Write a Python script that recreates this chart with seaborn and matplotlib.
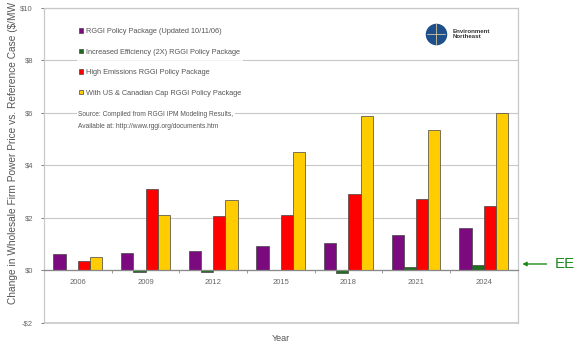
import matplotlib
matplotlib.use("Agg")
import matplotlib.pyplot as plt
import seaborn as sns
import pandas as pd
import numpy as np
from matplotlib.ticker import FixedLocator

years = ["2006", "2009", "2012", "2015", "2018", "2021", "2024"]
series_names = [
    "RGGI Policy Package (Updated 10/11/06)",
    "Increased Efficiency (2X) RGGI Policy Package",
    "High Emissions RGGI Policy Package",
    "With US & Canadian Cap RGGI Policy Package",
]
rggi = [0.61, 0.65, 0.76, 0.95, 1.03, 1.37, 1.60]
eff2x = [0.00, -0.05, -0.05, 0.03, -0.10, 0.15, 0.20]
high_em = [0.38, 3.09, 2.06, 2.13, 2.93, 2.74, 2.44]
uscan = [0.50, 2.10, 2.67, 4.53, 5.87, 5.37, 5.98]
colors = ["#7a0a7e", "#1f6e1f", "#ff0000", "#ffcc00"]
yticks = [-2, 0, 2, 4, 6, 8, 10]
ytick_labels = ["-$2", "$0", "$2", "$4", "$6", "$8", "$10"]

rows = []
for name, vals in zip(series_names, [rggi, eff2x, high_em, uscan]):
    for y, v in zip(years, vals):
        rows.append({"Year": y, "Series": name, "Value": v})
df = pd.DataFrame(rows)

sns.set_theme(style="white")
plt.rcParams['font.family'] = ['Liberation Sans', 'DejaVu Sans']

fig = plt.figure(figsize=(5.74, 3.46), dpi=100)
ax = fig.add_axes([0.0767, 0.0665, 0.825, 0.9105])

sns.barplot(data=df, x="Year", y="Value", hue="Series", hue_order=series_names,
            palette=colors, width=0.72, edgecolor="#444444", linewidth=0.5,
            ax=ax, legend=True, errorbar=None, saturation=1)

ax.set_ylim(-2, 10)
ax.set_xlim(-0.5, 6.5)
ax.set_yticks(yticks)
ax.set_yticklabels(ytick_labels)
ax.yaxis.grid(True, color="#c8c8c8", linewidth=0.8)
ax.set_axisbelow(True)
ax.axhline(-2, color="#c8c8c8", linewidth=1.2, clip_on=False, zorder=0)
for s in ["top", "right", "left"]:
    ax.spines[s].set_color("#c8c8c8")
    ax.spines[s].set_linewidth(0.9)
ax.spines["bottom"].set_position(("data", 0))
ax.spines["bottom"].set_color("#888888")
ax.spines["bottom"].set_linewidth(0.9)

ax.tick_params(axis="y", labelsize=5.5, colors="#666666", length=2, width=0.6, left=True, pad=6)
ax.tick_params(axis="x", which="major", labelsize=5.5, colors="#666666", length=0, pad=6)
ax.xaxis.set_minor_locator(FixedLocator(np.arange(0.5, 6.5, 1)))
ax.tick_params(axis="x", which="minor", length=2, width=0.6, color="#888888", bottom=True)

ax.set_xlabel("Year", fontsize=6.5, color="#555555")
ax.xaxis.set_label_coords(0.5, -0.035)
ax.set_ylabel("")
fig.text(0.022, 0.122, "Change in Wholesale Firm Power Price vs. Reference Case ($/MW",
         rotation=90, fontsize=7.3, color="#555555", va="bottom", ha="center")

leg = ax.legend(loc="upper left", bbox_to_anchor=(0.062, 0.955), frameon=True,
                fontsize=5.3, handlelength=0.55, handleheight=0.55, handletextpad=0.3,
                labelspacing=1.85, borderpad=0.3, edgecolor="none")
leg.get_frame().set_facecolor("white")
for t in leg.get_texts():
    t.set_color("#555555")

ax.text(0.072, 0.672, "Source: Compiled from RGGI IPM Modeling Results,\nAvailable at: http://www.rggi.org/documents.htm",
        transform=ax.transAxes, fontsize=4.8, color="#555555", va="top", linespacing=2.0,
        bbox=dict(facecolor="white", edgecolor="none", pad=1))

# logo
ax.scatter([0.827], [0.918], transform=ax.transAxes, s=210, color="#1d4f8c", zorder=5, clip_on=False)
ax.plot([0.827, 0.827], [0.885, 0.951], transform=ax.transAxes, color="#d8c89a", lw=0.6, zorder=6)
ax.plot([0.808, 0.846], [0.918, 0.918], transform=ax.transAxes, color="#d8c89a", lw=0.6, zorder=6)
ax.text(0.862, 0.918, "Environment\nNortheast", transform=ax.transAxes, fontsize=4.4,
        fontweight="bold", color="#333333", va="center", linespacing=1.0)

# EE annotation
fig.text(0.966, 0.237, "EE", fontsize=11, color="#1e8a1e", va="center", ha="left")
fig.add_artist(matplotlib.patches.FancyArrowPatch((0.957, 0.237), (0.905, 0.237),
               transform=fig.transFigure, arrowstyle="-|>", mutation_scale=6,
               color="#1e8a1e", lw=1.0))

fig.savefig("out.png", dpi=100)
